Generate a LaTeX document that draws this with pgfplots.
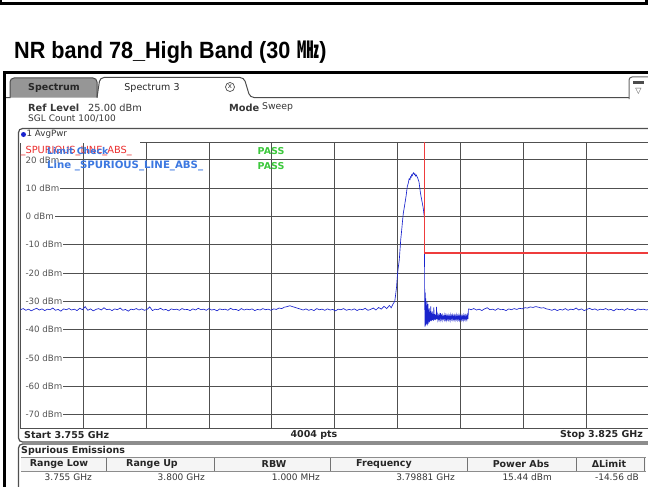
\documentclass[border=0pt]{standalone}
\usepackage{graphicx}
\usepackage{pgfplots}
\pgfplotsset{compat=1.18}
\usepackage{pgfplotstable}
\usepackage{fontspec}
\setmainfont{DejaVu Sans}
\newfontfamily\titlefont{Liberation Sans}
\newfontfamily\cjk{Noto Sans CJK KR}
\definecolor{trace}{RGB}{25,35,205}
\definecolor{limitred}{RGB}{235,45,45}
\definecolor{limline}{RGB}{238,60,60}
\definecolor{gridc}{RGB}{80,80,80}
\definecolor{uitext}{RGB}{55,55,55}
\definecolor{ticktext}{RGB}{85,85,85}
\definecolor{limblue}{RGB}{60,120,225}
\definecolor{passgreen}{RGB}{60,200,60}
\definecolor{tabgrey}{RGB}{150,150,150}
\newcommand\hdr{\fontsize{9}{10}\selectfont}
\newcommand\lp{\hspace*{3.4pt}}

\pgfplotstableread{
f d
3755.0 -33.0
3755.3 -32.6
3755.6 -33.2
3755.9 -32.8
3756.2 -33.4
3756.5 -32.9
3756.8 -32.5
3757.1 -33.1
3757.4 -32.7
3757.7 -33.3
3758.0 -32.8
3758.3 -33.0
3758.6 -32.4
3758.9 -33.2
3759.2 -32.9
3759.5 -33.5
3759.8 -32.7
3760.1 -33.0
3760.4 -32.6
3760.7 -33.1
3761.0 -32.8
3761.3 -33.3
3761.6 -32.5
3761.9 -33.0
3762.2 -31.9
3762.5 -33.2
3762.8 -32.7
3763.1 -33.4
3763.4 -32.9
3763.7 -32.6
3764.0 -33.1
3764.3 -32.3
3764.6 -33.0
3764.9 -32.8
3765.2 -33.3
3765.5 -32.7
3765.8 -33.0
3766.1 -32.4
3766.4 -33.2
3766.7 -32.9
3767.0 -33.5
3767.3 -32.8
3767.6 -33.0
3767.9 -32.6
3768.2 -33.1
3768.5 -32.7
3768.8 -33.2
3769.1 -32.9
3769.4 -32.0
3769.7 -33.3
3770.0 -32.8
3770.3 -33.0
3770.6 -32.5
3770.9 -33.1
3771.2 -32.9
3771.5 -33.4
3771.8 -32.7
3772.1 -33.0
3772.4 -32.8
3772.7 -33.2
3773.0 -32.6
3773.3 -33.0
3773.6 -32.9
3773.9 -33.3
3774.2 -32.7
3774.5 -33.1
3774.8 -32.5
3775.1 -33.0
3775.4 -32.8
3775.7 -33.2
3776.0 -32.6
3776.3 -33.1
3776.6 -32.9
3776.9 -33.4
3777.2 -32.7
3777.5 -33.0
3777.8 -32.8
3778.1 -33.2
3778.4 -32.5
3778.7 -33.0
3779.0 -32.9
3779.3 -33.3
3779.6 -32.6
3779.9 -33.1
3780.2 -32.8
3780.5 -33.0
3780.8 -32.7
3781.1 -33.3
3781.4 -32.9
3781.7 -33.1
3782.0 -32.6
3782.3 -33.0
3782.6 -32.8
3782.9 -33.2
3783.2 -32.7
3783.5 -32.9
3783.8 -32.4
3784.1 -32.6
3784.4 -32.1
3784.7 -31.9
3785.0 -31.6
3785.3 -31.9
3785.6 -32.2
3785.9 -32.5
3786.2 -32.8
3786.5 -33.1
3786.8 -32.7
3787.1 -33.2
3787.4 -32.9
3787.7 -33.3
3788.0 -32.6
3788.3 -33.0
3788.6 -32.8
3788.9 -33.2
3789.2 -32.7
3789.5 -33.1
3789.8 -32.9
3790.1 -33.4
3790.4 -32.8
3790.7 -33.0
3791.0 -32.6
3791.3 -33.2
3791.6 -32.9
3791.9 -33.1
3792.2 -32.7
3792.5 -33.3
3792.8 -32.8
3793.1 -33.0
3793.4 -32.5
3793.7 -33.2
3794.0 -32.9
3794.3 -32.4
3794.6 -33.1
3794.9 -32.2
3795.2 -32.8
3795.5 -31.8
3795.8 -32.6
3796.1 -31.5
3796.3 -32.3
3796.5 -31.0
3796.7 -30.0
3796.8 -27.5
3796.9 -24.9
3797.0 -20.5
3797.1 -17.8
3797.2 -15.4
3797.3 -11.0
3797.36 -8.3
3797.47 -4.8
3797.55 -2.0
3797.65 1.1
3797.8 4.0
3797.95 7.0
3798.09 10.5
3798.2 11.7
3798.3 13.3
3798.39 13.0
3798.45 14.0
3798.52 13.8
3798.58 14.7
3798.65 14.4
3798.72 15.1
3798.81 15.44
3798.88 14.8
3798.95 15.0
3799.02 14.3
3799.1 14.6
3799.18 14.0
3799.25 13.6
3799.32 12.9
3799.4 12.2
3799.51 9.4
3799.6 7.5
3799.7 5.8
3799.8 4.2
3799.87 2.9
3799.95 0.8
3799.99 -0.1
3800.01 -12.0
3800.03 -26.0
3800.06 -39.0
3800.09 -27.0
3800.12 -38.5
3800.16 -29.0
3800.19 -38.2
3800.22 -31.5
3800.25 -37.9
3800.28 -30.2
3800.31 -38.5
3800.34 -32.0
3800.37 -37.6
3800.40 -31.0
3800.43 -37.9
3800.46 -33.0
3800.50 -37.2
3800.54 -32.5
3800.58 -37.5
3800.62 -33.8
3800.66 -37.0
3800.70 -31.8
3800.74 -36.8
3800.78 -34.0
3800.82 -37.0
3800.86 -33.5
3800.90 -36.6
3800.95 -34.5
3801.00 -36.9
3801.05 -32.2
3801.10 -36.5
3801.15 -34.6
3801.20 -36.7
3801.25 -34.8
3801.30 -36.4
3801.35 -32.0
3801.40 -36.3
3801.45 -35.0
3801.50 -36.6
3801.56 -35.1
3801.62 -36.4
3801.68 -35.0
3801.74 -36.5
3801.80 -34.2
3801.86 -36.3
3801.92 -35.2
3801.98 -36.6
3802.04 -35.0
3802.10 -36.2
3802.16 -35.3
3802.22 -36.5
3802.28 -34.8
3802.34 -36.4
3802.40 -35.1
3802.46 -36.6
3802.52 -35.2
3802.58 -36.3
3802.64 -35.0
3802.70 -36.5
3802.76 -35.3
3802.82 -36.4
3802.88 -34.9
3802.94 -36.6
3803.00 -35.2
3803.06 -36.3
3803.12 -35.0
3803.18 -36.5
3803.24 -35.3
3803.30 -36.4
3803.36 -35.1
3803.42 -36.6
3803.48 -35.2
3803.54 -36.3
3803.60 -34.9
3803.66 -36.5
3803.72 -35.3
3803.78 -36.4
3803.84 -35.0
3803.90 -36.6
3803.96 -35.2
3804.02 -36.3
3804.08 -35.1
3804.14 -36.5
3804.20 -35.3
3804.26 -36.4
3804.32 -35.0
3804.38 -36.6
3804.44 -35.2
3804.50 -36.3
3804.56 -35.1
3804.62 -36.5
3804.68 -35.2
3804.74 -36.4
3804.80 -35.0
3804.86 -36.2
3804.90 -33.0
3804.95 -32.7
3805.2 -33.0
3805.5 -32.6
3805.8 -33.1
3806.1 -32.8
3806.4 -33.3
3806.7 -32.7
3807.0 -32.3
3807.3 -33.0
3807.6 -32.8
3807.9 -33.2
3808.2 -32.6
3808.5 -33.0
3808.8 -32.9
3809.1 -33.3
3809.4 -32.7
3809.7 -33.0
3810.0 -32.6
3810.3 -32.9
3810.6 -32.5
3810.9 -32.7
3811.2 -32.3
3811.5 -32.4
3811.8 -32.0
3812.1 -32.2
3812.4 -31.9
3812.7 -32.1
3813.0 -32.4
3813.3 -32.3
3813.6 -32.7
3813.9 -32.9
3814.2 -33.2
3814.5 -32.8
3814.8 -33.3
3815.1 -32.9
3815.4 -33.1
3815.7 -32.6
3816.0 -33.2
3816.3 -32.8
3816.6 -33.0
3816.9 -32.4
3817.2 -33.1
3817.5 -32.7
3817.8 -33.3
3818.1 -32.9
3818.4 -32.5
3818.7 -33.0
3819.0 -32.7
3819.3 -33.2
3819.6 -32.8
3819.9 -33.0
3820.2 -32.6
3820.5 -33.1
3820.8 -32.9
3821.1 -33.4
3821.4 -32.7
3821.7 -33.0
3822.0 -32.8
3822.3 -33.2
3822.6 -32.6
3822.9 -33.0
3823.2 -32.9
3823.5 -33.3
3823.8 -32.7
3824.1 -33.0
3824.4 -32.8
3824.7 -33.1
3825.0 -32.9
}\tracetab

\begin{document}
\begin{tikzpicture}
\useasboundingbox (0pt,0pt) rectangle (648pt,-487pt);
\begin{scope}[x=1pt,y=-1pt]
\fill[white] (0,0) rectangle (648,487);
% remnant of box above
\draw[line width=2.2pt] (1,-2) -- (1,3.5) -- (646.5,3.5) -- (646.5,-2);
% title
\node[anchor=base west, inner sep=0] at (14,59) {\scalebox{0.92}[1]{\titlefont\bfseries\fontsize{23.5}{24}\selectfont NR band 78\_High Band (30\,\,{\cjk ㎒})}};
% screen frame
\draw[line width=3pt] (4,490) -- (4,72.5) -- (650,72.5);
% tabs
\fill[tabgrey] (10,97.5) [rounded corners=4pt]-- (10,78) -- (97,78) [sharp corners]-- (97,97.5) -- cycle;
\draw[black!70, line width=1pt] (6,97.5) -- (10,97.5) [rounded corners=4pt]-- (10,78) -- (97,78) [sharp corners] -- (97,97.5);
\node[text=black!85] at (54,88) {\fontsize{9.5}{10}\selectfont\bfseries Spectrum};
\draw[black!70, line width=1pt] (97,97.5) [rounded corners=4pt]-- (100,77.5) -- (244,77.5) -- (250,97.5) [sharp corners]-- (629,97.5);
\node[text=black!85] at (152,88) {\fontsize{9.5}{10}\selectfont Spectrum 3};
\draw[black!70, line width=0.7pt] (230,87) circle (4.5);
\node[text=black!80] at (230,86.6) {\fontsize{7}{7}\selectfont x};
% icon
\draw[black!60, line width=1pt, rounded corners=3pt] (629,99) -- (629,77) -- (652,77);
\fill[black!70] (633,81) rectangle (644,84.5);
\node[text=black!70] at (638.5,91) {\fontsize{8}{8}\selectfont ▽};
% header text
\node[anchor=west, inner sep=0, text=uitext] at (28,107.5) {\fontsize{9.8}{10}\selectfont\textbf{Ref Level}};
\node[anchor=west, inner sep=0, text=uitext] at (88,107.5) {\fontsize{9.8}{10}\selectfont 25.00 dBm};
\node[anchor=west, inner sep=0, text=uitext] at (229,107.5) {\fontsize{9.8}{10}\selectfont\textbf{Mode}};
\node[anchor=west, inner sep=0, text=uitext] at (262,107.5) {\fontsize{9.3}{10}\selectfont Sweep};
\node[anchor=west, inner sep=0, text=uitext] at (28,119) {\hdr SGL Count 100/100};
% plot frame
\draw[gridc, line width=1.2pt, rounded corners=4pt] (18.5,442) rectangle (656,128.5);
\end{scope}

\begin{axis}[
  at={(20.5pt,-428.5pt)}, anchor=south west,
  scale only axis, width=628.3pt, height=286.5pt,
  xmin=3755, xmax=3825, ymin=-75, ymax=26.3,
  xtick={3762,3769,3776,3783,3790,3797,3804,3811,3818},
  ytick={-70,-60,-50,-40,-30,-20,-10,0,10,20},
  yticklabels={\lp-70 dBm,\lp-60 dBm,\lp-50 dBm,\lp-40 dBm,\lp-30 dBm,\lp-20 dBm,\lp-10 dBm,\lp0 dBm,\lp10 dBm,\lp20 dBm},
  xticklabels={},
  grid=major, major grid style={draw=gridc, line width=0.9pt},
  axis line style={draw=gridc, line width=0.9pt},
  major tick length=0pt,
  yticklabel style={anchor=west, xshift=0.6pt, fill=white, inner xsep=0.8pt, inner ysep=1pt, text=ticktext, font=\fontsize{8.7}{9}\selectfont},
]
\addplot[trace, line width=0.65pt] table[x=f,y=d]{\tracetab};
\addplot[limline, line width=1.4pt] coordinates {(3800,26.3) (3800,-13) (3825,-13)};
\end{axis}

\begin{scope}[x=1pt,y=-1pt]
% trace label
\fill[white] (20,130) rectangle (140,143);
\fill[trace] (23.5,134.5) circle (2.5);
\node[anchor=west, inner sep=0, text=uitext] at (26.5,134.5) {\fontsize{8.7}{9}\selectfont 1 AvgPwr};
% limit check
\node[anchor=west, inner sep=0, text=limitred] at (20.5,151) {\fontsize{9.8}{10}\selectfont \_SPURIOUS\_LINE\_ABS\_};
\node[anchor=west, inner sep=0, text=limblue] at (47,151.5) {\fontsize{9.3}{10}\selectfont\bfseries Limit Check};
\node[anchor=west, inner sep=0, text=limblue] at (47,166) {\fontsize{10.2}{10}\selectfont\bfseries Line \_SPURIOUS\_LINE\_ABS\_};
\node[text=passgreen, inner sep=0] at (271,151.5) {\fontsize{9.5}{10}\selectfont\bfseries PASS};
\node[text=passgreen, inner sep=0] at (271,166) {\fontsize{9.5}{10}\selectfont\bfseries PASS};
% start / stop row
\node[anchor=west, inner sep=0, text=black!85] at (24,435) {\fontsize{9.5}{10}\selectfont\bfseries Start 3.755 GHz};
\node[inner sep=0, text=black!85] at (314,435) {\fontsize{9.5}{10}\selectfont\bfseries 4004 pts};
\node[anchor=east, inner sep=0, text=black!85] at (643,435) {\fontsize{9.5}{10}\selectfont\bfseries Stop 3.825 GHz};
% spurious emissions table
\draw[gridc, line width=1.2pt, rounded corners=4pt] (18.5,495) -- (18.5,444) -- (656,444);
\node[anchor=west, inner sep=0, text=black!85] at (21,450.5) {\fontsize{9.5}{10}\selectfont\bfseries Spurious Emissions};
\fill[black!4] (21,457) rectangle (646,471);
\draw[black!45, line width=0.8pt] (21,471) -- (646,471);
\draw[black!45, line width=0.8pt] (21,457) -- (646,457);
\foreach \sx in {106,214,330,467,576,644} {\draw[black!55, line width=0.9pt] (\sx,458) -- (\sx,471);}
\foreach \cx/\ct in {59/Range Low,152/Range Up,274/RBW,384/Frequency,521/Power Abs,609/ΔLimit}
  {\node[inner sep=0, text=black!85] at (\cx,464) {\fontsize{9.5}{10}\selectfont\bfseries \ct};}
\foreach \rx/\rt in {92/3.755 GHz,205/3.800 GHz,320/1.000 MHz,455/3.79881 GHz,552/15.44 dBm,639/-14.56 dB}
  {\node[anchor=east, inner sep=0, text=uitext] at (\rx,477) {\hdr \rt};}
\end{scope}
\end{tikzpicture}
\end{document}
